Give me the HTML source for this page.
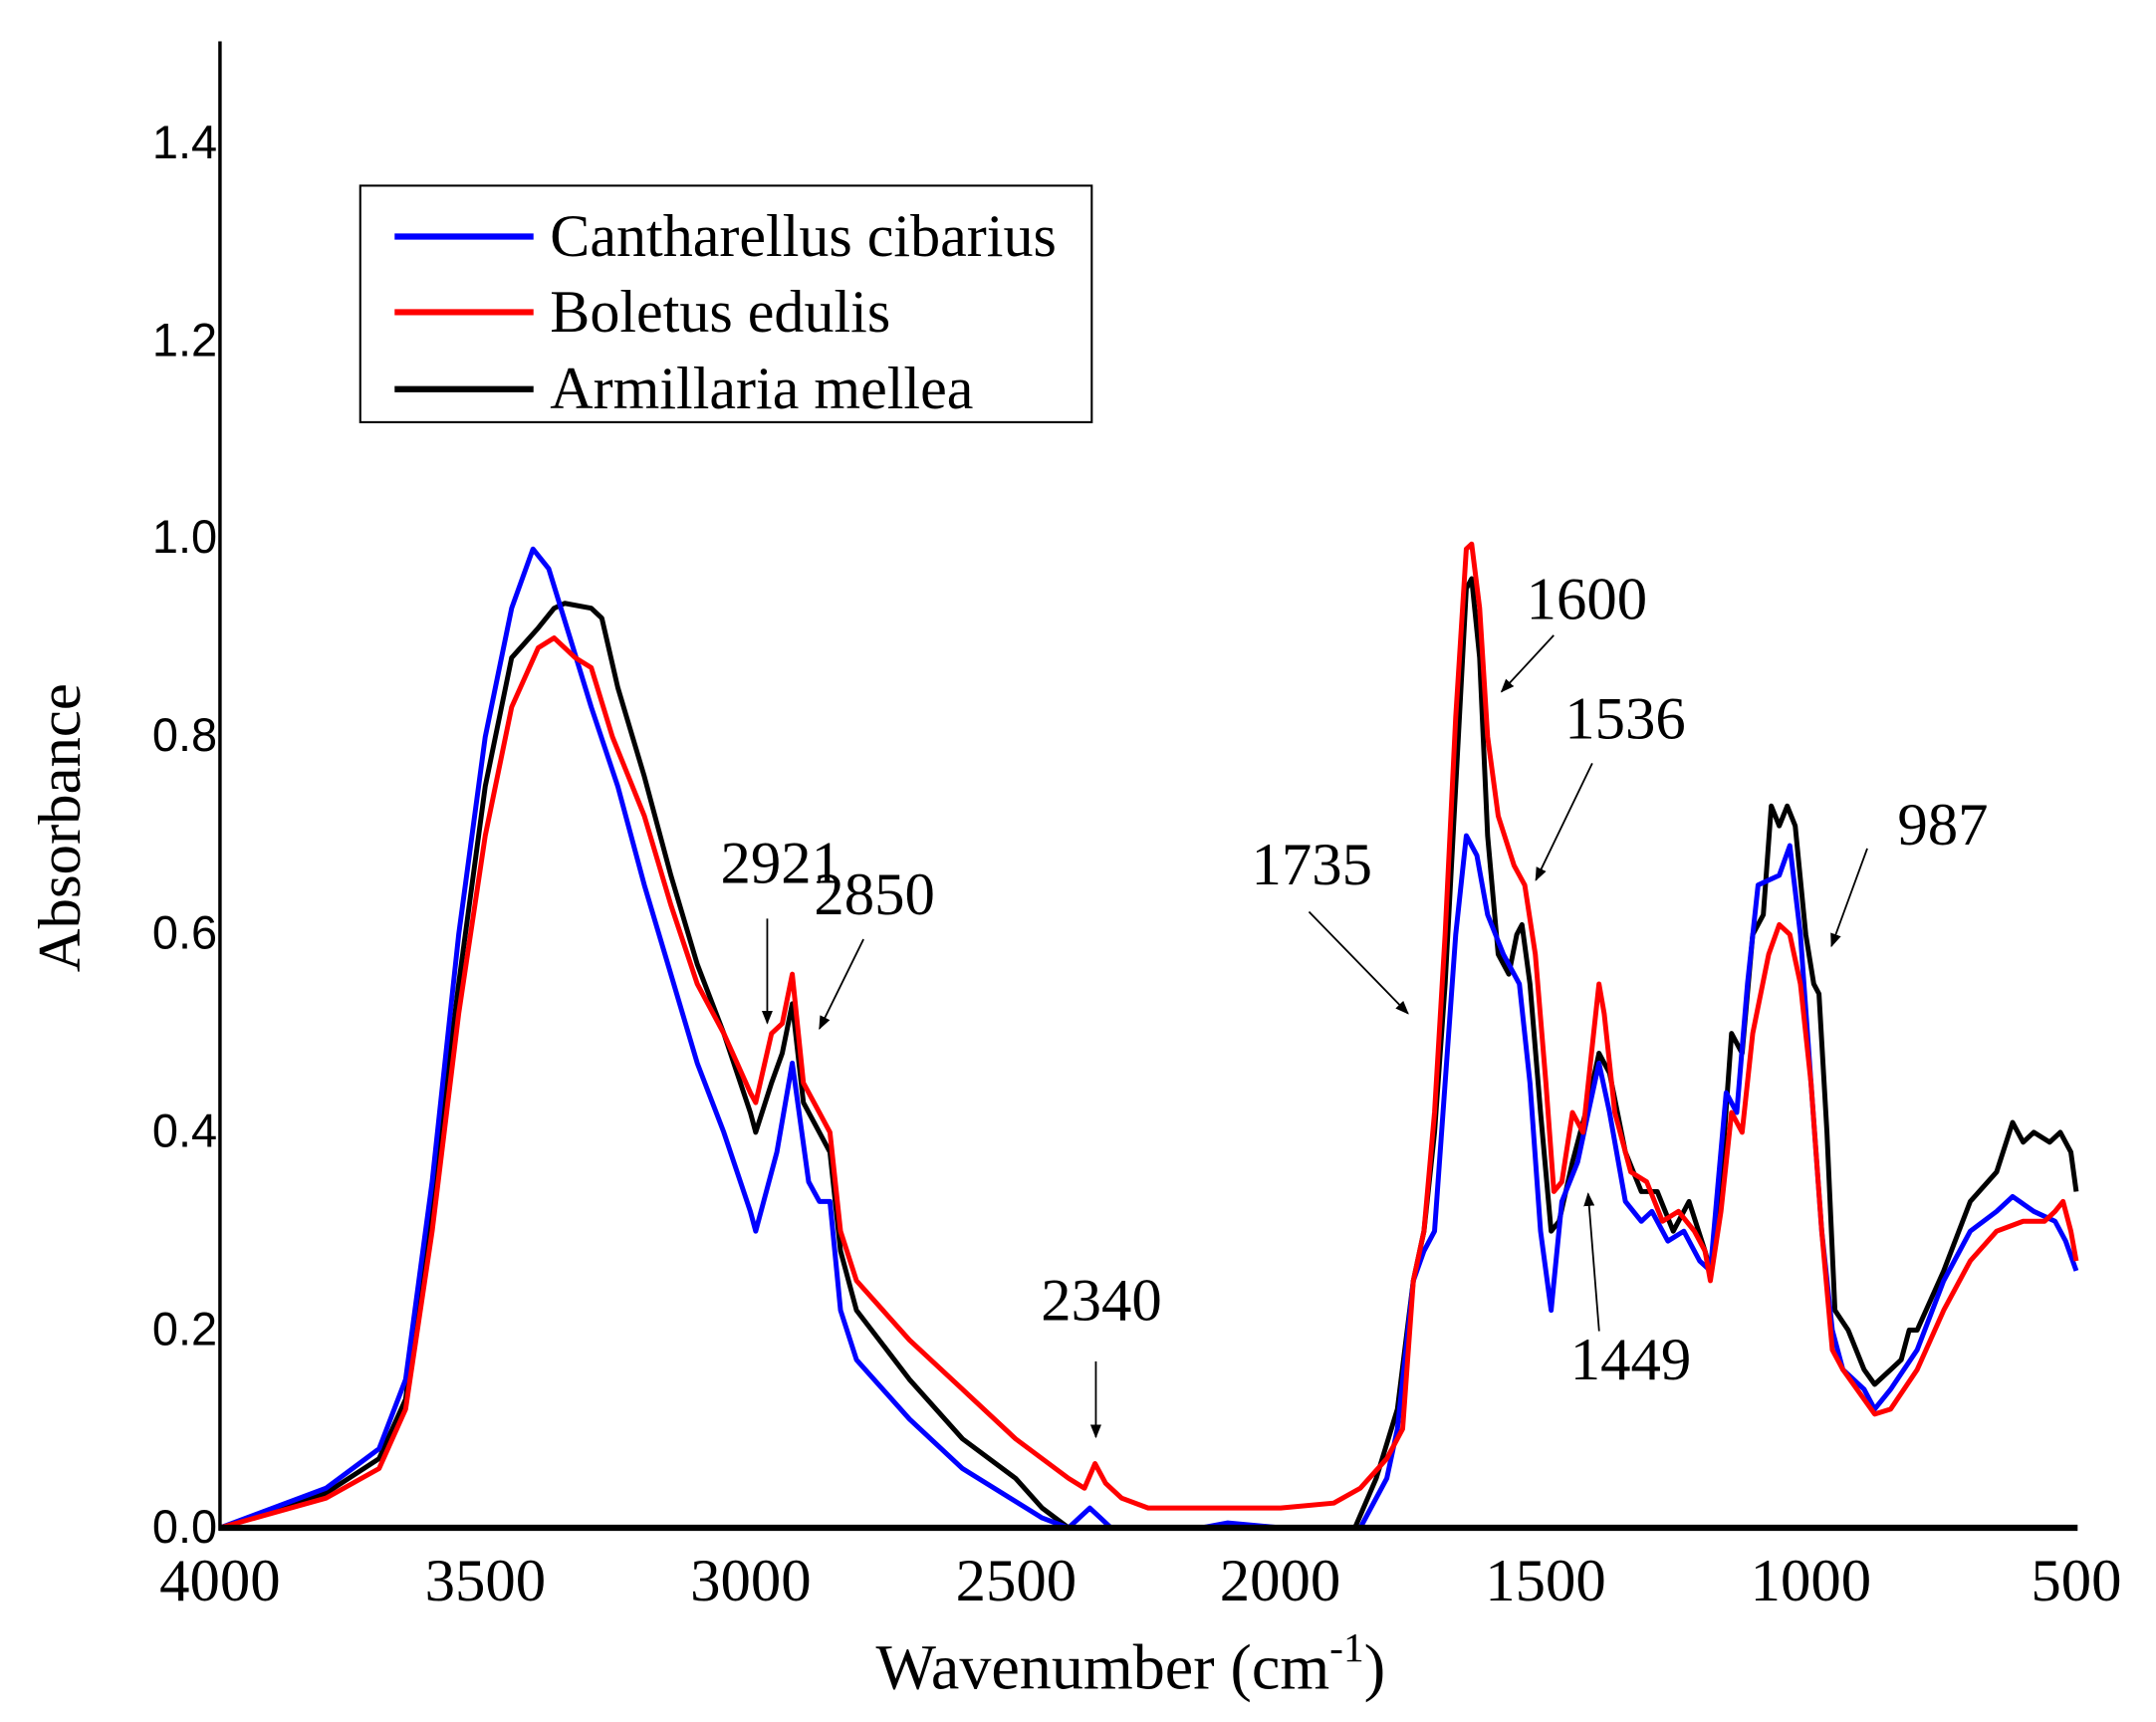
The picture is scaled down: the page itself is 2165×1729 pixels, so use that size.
<!DOCTYPE html>
<html><head><meta charset="utf-8"><style>html,body{margin:0;padding:0;background:#fff}svg{display:block}</style></head>
<body>
<svg id="s" width="2165" height="1729" viewBox="0 0 1568 1252.2" xmlns="http://www.w3.org/2000/svg">
<rect width="1568" height="1253" fill="#fff"/>
<g font-family="Liberation Sans, sans-serif" font-size="34" text-anchor="end" fill="#000">
<text x="158" y="1122">0.0</text><text x="158" y="978">0.2</text><text x="158" y="834">0.4</text>
<text x="158" y="690">0.6</text><text x="158" y="546">0.8</text><text x="158" y="402">1.0</text>
<text x="158" y="259">1.2</text><text x="158" y="115">1.4</text>
</g>
<g font-family="Liberation Serif, serif" font-size="44" text-anchor="middle" fill="#000">
<text x="160" y="1164">4000</text><text x="353" y="1164">3500</text><text x="546" y="1164">3000</text>
<text x="739" y="1164">2500</text><text x="931" y="1164">2000</text><text x="1124" y="1164">1500</text>
<text x="1317" y="1164">1000</text><text x="1510" y="1164">500</text>
</g>
<text x="637" y="1228" font-family="Liberation Serif, serif" font-size="47"><tspan textLength="330" lengthAdjust="spacingAndGlyphs">Wavenumber (cm</tspan><tspan dy="-20" font-size="30">-1</tspan><tspan dy="20">)</tspan></text>
<text transform="translate(58,602) rotate(-90)" font-family="Liberation Serif, serif" font-size="44" text-anchor="middle">Absorbance</text>
<g id="curves" fill="none" stroke-width="3.6" stroke-linejoin="round"></g>
<line x1="160" y1="30" x2="160" y2="1113" stroke="#000" stroke-width="2.5"/>
<line x1="159" y1="1111" x2="1511" y2="1111" stroke="#000" stroke-width="4.5"/>
<rect x="262" y="135" width="532" height="172" fill="#fff" stroke="#000" stroke-width="1.5"/>
<line x1="287" y1="172" x2="388" y2="172" stroke="#00f" stroke-width="4.5"/>
<line x1="287" y1="227" x2="388" y2="227" stroke="#f00" stroke-width="4.5"/>
<line x1="287" y1="283" x2="388" y2="283" stroke="#000" stroke-width="4.5"/>
<g font-family="Liberation Serif, serif" font-size="43.5" fill="#000">
<text x="400" y="186">Cantharellus cibarius</text>
<text x="400" y="241">Boletus edulis</text>
<text x="400" y="297">Armillaria mellea</text>
</g>
<defs><marker id="ar" markerWidth="10" markerHeight="8" refX="9" refY="4" orient="auto" markerUnits="userSpaceOnUse"><path d="M0,0 L10,4 L0,8 z" fill="#000"/></marker></defs>
<g stroke="#000" stroke-width="1.3" marker-end="url(#ar)">
<line x1="558" y1="668" x2="558" y2="744"/>
<line x1="628" y1="683" x2="596" y2="748"/>
<line x1="797" y1="990" x2="797" y2="1045"/>
<line x1="952" y1="663" x2="1024" y2="737"/>
<line x1="1130" y1="462" x2="1092" y2="503"/>
<line x1="1158" y1="555" x2="1117" y2="640"/>
<line x1="1163" y1="968" x2="1155" y2="868"/>
<line x1="1358" y1="617" x2="1332" y2="688"/>
</g>
<g font-family="Liberation Serif, serif" font-size="44" fill="#000">
<text x="524" y="642">2921</text><text x="592" y="665">2850</text>
<text x="757" y="960">2340</text><text x="910" y="643">1735</text>
<text x="1110" y="450">1600</text><text x="1138" y="537">1536</text>
<text x="1142" y="1003">1449</text><text x="1380" y="614">987</text>
</g>
</svg>
<script>
var B=[4000,0,3800,.04,3700,.08,3650,.15,3600,.35,3550,.6,3500,.8,3450,.93,3410,.99,3380,.97,3340,.9,3300,.83,3250,.75,3200,.65,3150,.56,3100,.47,3050,.4,3000,.32,2990,.3,2950,.38,2921,.47,2890,.35,2870,.33,2850,.33,2830,.22,2800,.17,2700,.11,2600,.06,2450,.01,2400,0,2360,.02,2340,.01,2320,0,2150,0,2100,.005,2000,0,1850,0,1800,.05,1780,.1,1750,.25,1730,.28,1710,.3,1690,.45,1670,.6,1650,.7,1630,.68,1610,.62,1580,.58,1550,.55,1530,.45,1510,.3,1490,.22,1470,.33,1440,.37,1420,.42,1400,.47,1380,.42,1350,.33,1320,.31,1300,.32,1270,.29,1240,.3,1210,.27,1190,.26,1175,.35,1160,.44,1140,.42,1120,.55,1100,.65,1060,.66,1040,.69,1020,.6,1000,.45,980,.3,960,.2,940,.16,900,.14,880,.12,850,.14,800,.18,750,.25,700,.3,650,.32,620,.335,580,.32,540,.31,520,.29,500,.26];
var R=[4000,0,3800,.03,3700,.06,3650,.12,3600,.3,3550,.52,3500,.7,3450,.83,3400,.89,3370,.9,3330,.88,3300,.87,3260,.8,3200,.72,3150,.63,3100,.55,3050,.5,3000,.44,2990,.43,2960,.5,2940,.51,2921,.56,2900,.45,2870,.42,2850,.4,2830,.3,2800,.25,2700,.19,2600,.14,2500,.09,2400,.05,2370,.04,2350,.065,2330,.045,2300,.03,2250,.02,2150,.02,2000,.02,1900,.025,1850,.04,1800,.07,1770,.1,1750,.25,1730,.3,1710,.42,1690,.6,1670,.82,1650,.99,1640,.995,1625,.93,1610,.8,1590,.72,1560,.67,1540,.65,1520,.58,1500,.45,1485,.34,1470,.35,1450,.42,1430,.4,1410,.5,1400,.55,1390,.52,1370,.42,1340,.36,1310,.35,1280,.31,1250,.32,1220,.3,1200,.28,1190,.25,1170,.32,1150,.42,1130,.4,1110,.5,1080,.58,1060,.61,1040,.6,1020,.55,1000,.45,980,.3,960,.18,940,.16,900,.13,880,.115,850,.12,800,.16,750,.22,700,.27,650,.3,600,.31,560,.31,540,.32,525,.33,510,.3,500,.27];
var K=[4000,0,3800,.035,3700,.07,3650,.13,3600,.33,3550,.55,3500,.75,3450,.88,3400,.91,3370,.93,3350,.935,3300,.93,3280,.92,3250,.85,3200,.76,3150,.66,3100,.57,3050,.5,3000,.42,2990,.4,2960,.45,2940,.48,2921,.53,2900,.43,2870,.4,2850,.38,2830,.28,2800,.22,2700,.15,2600,.09,2500,.05,2450,.02,2400,0,1860,0,1820,.05,1780,.12,1750,.25,1730,.3,1710,.4,1690,.55,1670,.75,1650,.95,1640,.96,1625,.88,1610,.7,1590,.58,1570,.56,1555,.6,1545,.61,1530,.55,1510,.42,1490,.3,1475,.31,1450,.37,1420,.43,1400,.48,1380,.46,1350,.38,1320,.34,1290,.34,1260,.3,1230,.33,1200,.28,1190,.26,1170,.35,1150,.5,1130,.48,1110,.6,1090,.62,1075,.73,1060,.71,1045,.73,1030,.71,1010,.6,995,.55,985,.54,970,.4,955,.22,930,.2,900,.16,880,.145,850,.16,830,.17,815,.2,800,.2,750,.26,700,.33,650,.36,620,.41,600,.39,580,.4,550,.39,530,.4,510,.38,500,.34];
function P(a){var d="";for(var i=0;i<a.length;i+=2){var x=160+(4000-a[i])*1350/3500,y=1111-a[i+1]*719;d+=(i?"L":"M")+x.toFixed(1)+","+y.toFixed(1);}return d;}
var g=document.getElementById("curves"),ns="http://www.w3.org/2000/svg";
[[K,"#000"],[B,"#00f"],[R,"#f00"]].forEach(function(s){var p=document.createElementNS(ns,"path");p.setAttribute("d",P(s[0]));p.setAttribute("stroke",s[1]);g.appendChild(p);});
</script>
</body></html>
